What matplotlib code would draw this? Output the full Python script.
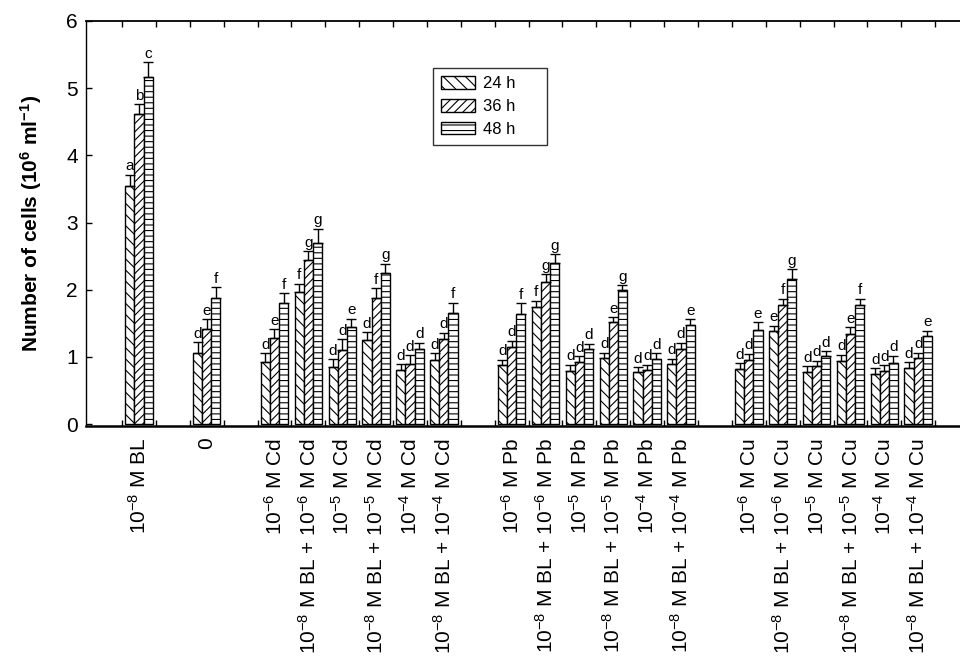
import numpy as np
import matplotlib
matplotlib.use('Agg')
import matplotlib.pyplot as plt

plt.rcParams['font.family'] = ['Liberation Sans', 'DejaVu Sans']
plt.rcParams['mathtext.fontset'] = 'custom'
plt.rcParams['mathtext.rm'] = 'Liberation Sans'
plt.rcParams['mathtext.it'] = 'Liberation Sans:italic'
plt.rcParams['mathtext.bf'] = 'Liberation Sans:bold'
plt.rcParams['mathtext.default'] = 'regular'
plt.rcParams['hatch.linewidth'] = 0.8

# treatments and their slot on the x axis (empty slots separate the groups)
labels = [
    r'$10^{-8}$ M BL', '0',
    r'$10^{-6}$ M Cd', r'$10^{-8}$ M BL + $10^{-6}$ M Cd',
    r'$10^{-5}$ M Cd', r'$10^{-8}$ M BL + $10^{-5}$ M Cd',
    r'$10^{-4}$ M Cd', r'$10^{-8}$ M BL + $10^{-4}$ M Cd',
    r'$10^{-6}$ M Pb', r'$10^{-8}$ M BL + $10^{-6}$ M Pb',
    r'$10^{-5}$ M Pb', r'$10^{-8}$ M BL + $10^{-5}$ M Pb',
    r'$10^{-4}$ M Pb', r'$10^{-8}$ M BL + $10^{-4}$ M Pb',
    r'$10^{-6}$ M Cu', r'$10^{-8}$ M BL + $10^{-6}$ M Cu',
    r'$10^{-5}$ M Cu', r'$10^{-8}$ M BL + $10^{-5}$ M Cu',
    r'$10^{-4}$ M Cu', r'$10^{-8}$ M BL + $10^{-4}$ M Cu',
]
slots = [0, 2, 4, 5, 6, 7, 8, 9, 11, 12, 13, 14, 15, 16, 18, 19, 20, 21, 22, 23]

series = ['24 h', '36 h', '48 h']

h24 = [3.55, 1.06, 0.93, 1.96, 0.85, 1.245, 0.80, 0.96, 0.875, 1.75,
       0.795, 0.98, 0.77, 0.90, 0.825, 1.38, 0.775, 0.935, 0.75, 0.835]
e24 = [0.16, 0.16, 0.13, 0.13, 0.12, 0.12, 0.09, 0.10, 0.085, 0.085,
       0.09, 0.085, 0.075, 0.075, 0.085, 0.085, 0.085, 0.10, 0.085, 0.085]
h36 = [4.62, 1.41, 1.28, 2.45, 1.10, 1.875, 0.895, 1.27, 1.155, 2.11,
       0.925, 1.52, 0.81, 1.12, 0.96, 1.775, 0.87, 1.34, 0.785, 0.98]
e36 = [0.14, 0.15, 0.13, 0.12, 0.16, 0.15, 0.13, 0.09, 0.085, 0.12,
       0.09, 0.075, 0.075, 0.09, 0.09, 0.09, 0.075, 0.10, 0.09, 0.085]
h48 = [5.17, 1.875, 1.80, 2.69, 1.45, 2.255, 1.12, 1.66, 1.64, 2.395,
       1.12, 1.99, 0.97, 1.48, 1.40, 2.16, 1.01, 1.775, 0.91, 1.305]
e48 = [0.22, 0.16, 0.15, 0.22, 0.12, 0.13, 0.09, 0.15, 0.16, 0.135,
       0.075, 0.075, 0.09, 0.085, 0.115, 0.15, 0.075, 0.09, 0.11, 0.085]

l24 = list('addfdddddfdddddedddd')
l36 = list('beegdfdddgdedddfdedd')
l48 = list('cffgegdffgdgdeegdfde')

fig = plt.figure(figsize=(9.6, 6.6), dpi=100)
ax = fig.add_axes([0.0896, 0.3538, 0.9198, 0.6144])

x = np.array(slots, dtype=float)
w = 0.27
hatches = ['\\\\\\', '////', '---']
bars = []
for k, (h, e, lt, hatch) in enumerate(zip([h24, h36, h48], [e24, e36, e48],
                                          [l24, l36, l48], hatches)):
    xs = x + (k - 1) * w
    b = ax.bar(xs, h, width=w, color='white', edgecolor='black',
               linewidth=1.0, hatch=hatch, label=series[k] + '     ', zorder=2)
    bars.append(b)
    ax.errorbar(xs, h, yerr=[np.zeros(len(e)), e], fmt='none', ecolor='black',
                elinewidth=1.0, capsize=3.3, capthick=1.0, zorder=3)
    for xi, hi, ei, t in zip(xs, h, e, lt):
        ax.annotate(t, (xi, hi + ei), xytext=(0, 1), textcoords='offset points',
                    ha='center', va='bottom', fontsize=11)

ax.set_xlim(-1.563, 24.5)
ax.set_ylim(-0.035, 6)

ax.set_xticks(x)
ax.set_xticklabels(labels, rotation=90, fontsize=15)
ax.set_xticks(np.arange(-0.5, 24.0, 1), minor=True)
ax.tick_params(axis='x', which='major', length=0, pad=8)
ax.tick_params(axis='x', which='minor', direction='in', length=4,
               top=True, bottom=True, width=1)

ax.set_yticks(range(7))
ax.tick_params(axis='y', direction='in', length=4, labelsize=15, pad=6, width=1)
ax.set_ylabel(r'Number of cells (10$^{\mathbf{6}}$ ml$^{\mathbf{-1}}$)',
              fontsize=15, fontweight='bold', labelpad=16)

ax.spines['right'].set_visible(False)
ax.spines['left'].set_linewidth(1.0)
ax.spines['top'].set_linewidth(1.3)
ax.spines['bottom'].set_linewidth(1.8)

leg = ax.legend(handles=bars, loc='upper left', bbox_to_anchor=(0.451, 0.897),
                bbox_transform=fig.transFigure, borderaxespad=0, fontsize=12,
                fancybox=False, frameon=True, edgecolor='black',
                handlelength=2.0, handleheight=0.8, labelspacing=0.45,
                borderpad=0.5, handletextpad=0.5)
leg.get_frame().set_linewidth(1.0)

fig.savefig('out.png', dpi=100)
